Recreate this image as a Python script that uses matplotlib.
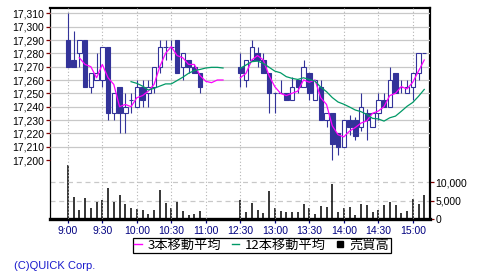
import matplotlib
matplotlib.use("Agg")
import matplotlib.pyplot as plt
import numpy as np
import pandas as pd
from matplotlib.patches import Rectangle
from matplotlib.lines import Line2D

# ---------------- data ----------------
times = ["9:00", "9:05", "9:10", "9:15", "9:20", "9:25", "9:30", "9:35", "9:40", "9:45",
         "9:50", "9:55", "10:00", "10:05", "10:10", "10:15", "10:20", "10:25", "10:30", "10:35",
         "10:40", "10:45", "10:50", "10:55",
         "12:30", "12:35", "12:40", "12:45", "12:50", "12:55", "13:00", "13:05", "13:10", "13:15",
         "13:20", "13:25", "13:30", "13:35", "13:40", "13:45", "13:50", "13:55", "14:00", "14:05",
         "14:10", "14:15", "14:20", "14:25", "14:30", "14:35", "14:40", "14:45", "14:50", "14:55",
         "15:00", "15:05", "15:10"]
opens = [17290, 17275, 17280, 17290, 17255, 17260, 17260, 17285, 17235, 17255,
         17235, 17245, 17240, 17255, 17250, 17255, 17270, 17285, 17285, 17290,
         17270, 17275, 17270, 17265,
         17270, 17260, 17275, 17280, 17275, 17265, 17250, 17250, 17250, 17245,
         17260, 17255, 17265, 17245, 17255, 17230, 17235, 17220, 17210, 17230,
         17230, 17225, 17235, 17225, 17235, 17245, 17240, 17265, 17255, 17250,
         17255, 17265, 17280]
highs = [17310, 17297, 17290, 17290, 17265, 17280, 17285, 17285, 17250, 17255,
         17250, 17250, 17260, 17260, 17260, 17270, 17290, 17290, 17290, 17290,
         17280, 17275, 17272, 17265,
         17280, 17275, 17290, 17285, 17280, 17265, 17250, 17260, 17250, 17262,
         17260, 17275, 17265, 17260, 17260, 17235, 17235, 17220, 17230, 17234,
         17232, 17250, 17238, 17235, 17250, 17250, 17270, 17265, 17260, 17260,
         17265, 17280, 17280]
lows = [17270, 17270, 17270, 17255, 17250, 17260, 17255, 17230, 17230, 17220,
        17220, 17235, 17240, 17240, 17240, 17250, 17265, 17275, 17275, 17265,
        17260, 17265, 17265, 17250,
        17255, 17255, 17275, 17270, 17265, 17235, 17235, 17250, 17245, 17245,
        17250, 17255, 17245, 17245, 17230, 17225, 17200, 17204, 17210, 17219,
        17215, 17222, 17215, 17225, 17230, 17240, 17240, 17250, 17250, 17250,
        17245, 17260, 17280]
closes = [17270, 17270, 17290, 17255, 17265, 17265, 17285, 17235, 17250, 17235,
          17240, 17245, 17255, 17245, 17255, 17270, 17285, 17285, 17285, 17265,
          17280, 17270, 17265, 17255,
          17265, 17275, 17285, 17275, 17265, 17250, 17250, 17250, 17245, 17255,
          17255, 17270, 17250, 17260, 17230, 17235, 17212, 17210, 17230, 17225,
          17218, 17240, 17230, 17235, 17245, 17240, 17260, 17250, 17255, 17255,
          17265, 17280, 17280]
volumes = [14580, 6050, 2480, 5780, 3030, 4680, 5140, 8530, 4680, 6600,
           4130, 3030, 2750, 2480, 1380, 2480, 7980, 4400, 3030, 4680,
           2200, 1100, 1380, 2200,
           5200, 1930, 4400, 2480, 1650, 7700, 3030, 2200, 1930, 1930,
           1930, 4130, 3030, 1380, 3580, 3300, 9630, 1930, 3030, 3300,
           1100, 4130, 3850, 1930, 2480, 3850, 4680, 3850, 1650, 2200,
           5500, 4130, 6600]
# moving-average values shown after the last morning candle
ext_times = ["11:00", "11:05", "11:10", "11:15"]
ma3_ext = [17259, 17258, 17260, 17260]
ma12_ext = [17269, 17269.5, 17269.5, 17269]

tick_labels = ["9:00", "9:30", "10:00", "10:30", "11:00", "12:30", "13:00",
               "13:30", "14:00", "14:30", "15:00"]
price_ticks = list(range(17200, 17311, 10))
vol_ticks = [0, 5000, 10000]


def slot(t):
    h, m = map(int, t.split(":"))
    mins = h * 60 + m
    if mins < 12 * 60:
        return (mins - 9 * 60) / 5.0
    return 30 + (mins - (12 * 60 + 30)) / 5.0


x = np.array([slot(t) for t in times])
xe = np.array([slot(t) for t in ext_times])
n_am = sum(1 for t in times if slot(t) < 30)

cl = pd.Series(closes, dtype=float)
ma3 = cl.rolling(3).mean().to_numpy()
ma12 = cl.rolling(12).mean().to_numpy()

# ---------------- figure ----------------
W, H = 480, 280
fig = plt.figure(figsize=(W / 100, H / 100), dpi=100)
rect = [50 / W, 61 / H, 380 / W, 211 / H]
axv = fig.add_axes(rect)
ax = axv.twinx()
ax.yaxis.tick_left()
axv.yaxis.tick_right()

ax.set_xlim(-3.1, 63.0)
ax.set_ylim(17155.75, 17314)
axv.set_ylim(0, 57500)

cand = "#333399"
# grid
for p in price_ticks[1:]:
    ax.axhline(p, color="#c8c8c8", lw=0.9, zorder=0)
for v in vol_ticks[1:]:
    axv.axhline(v, color="#c8c8c8", lw=0.9, ls=(0, (4, 3)), zorder=0)
tpos = [slot(t) for t in tick_labels]
for t in tpos:
    ax.axvline(t, color="#b4b4b4", lw=0.8, ls=(0, (1, 2)), zorder=0)

# volume
axv.vlines(x, 0, volumes, color="black", lw=1.1, zorder=2)

# candles
bw = 0.78
ax.vlines(x, lows, highs, color=cand, lw=0.8, zorder=3)
for xi, o, c in zip(x, opens, closes):
    lo, hi = min(o, c), max(o, c)
    up = c >= o
    ax.add_patch(Rectangle((xi - bw / 2, lo), bw, hi - lo,
                           facecolor="white" if up else cand,
                           edgecolor=cand, lw=0.8, zorder=4))

# moving averages
am = slice(0, n_am)
pm = slice(n_am, len(times))
ax.plot(np.concatenate([x[am], xe]), np.concatenate([ma3[am], ma3_ext]),
        color="#ff00ff", lw=0.9, zorder=5)
ax.plot(x[pm], ma3[pm], color="#ff00ff", lw=0.9, zorder=5)
ax.plot(np.concatenate([x[am], xe]), np.concatenate([ma12[am], ma12_ext]),
        color="#009966", lw=0.9, zorder=5)
ax.plot(x[pm], ma12[pm], color="#009966", lw=0.9, zorder=5)

# axes styling
lab_font = "Liberation Sans"
ax.set_yticks(price_ticks)
ax.set_yticklabels([f"{p:,}" for p in price_ticks], fontsize=7.5, family=lab_font)
ax.tick_params(axis="y", which="both", left=True, right=False, labelleft=True,
               labelright=False, colors="#800000", labelcolor="black",
               length=3, width=0.9, pad=1)
axv.set_yticks(vol_ticks)
axv.set_yticklabels([f"{v:,}" for v in vol_ticks], fontsize=7.5, family=lab_font)
axv.tick_params(axis="y", left=False, right=True, labelleft=False, labelright=True,
                colors="#800000", labelcolor="black", length=3, width=0.9, pad=1)
axv.set_xticks(tpos)
axv.set_xticklabels(tick_labels, fontsize=7.5, family=lab_font)
axv.tick_params(axis="x", colors="#000080", labelcolor="#000080", length=3,
                width=0.9, pad=2)
ax.tick_params(axis="x", bottom=False, labelbottom=False, top=False)

for s in ax.spines.values():
    s.set_visible(False)
axv.spines["top"].set_linewidth(1.6)
axv.spines["right"].set_linewidth(1.6)
axv.spines["bottom"].set_linewidth(2.4)
axv.spines["left"].set_linewidth(0.9)
for s in axv.spines.values():
    s.set_color("black")
    s.set_zorder(10)

# legend
handles = [Line2D([], [], color="#ff00ff", lw=1.0),
           Line2D([], [], color="#009966", lw=1.0),
           Line2D([], [], color="black", marker="s", ls="none", markersize=5)]
labels = ["3本移動平均", "12本移動平均", "売買高"]
leg = fig.legend(handles, labels, loc="center",
                 bbox_to_anchor=(261.7 / W, 1 - 245.5 / H), ncol=3,
                 frameon=True, fancybox=False, edgecolor="black", framealpha=1,
                 handlelength=0.6, handletextpad=0.4, columnspacing=0.8,
                 borderpad=0.1, borderaxespad=0,
                 prop={"family": ["Noto Sans CJK JP", "DejaVu Sans"], "size": 9.5})
leg.get_frame().set_linewidth(0.9)

fig.text(14 / W, 1 - 266 / H, "(C)QUICK Corp.", color="#1a1acc", fontsize=8,
         family=lab_font, va="center", ha="left")

fig.savefig("out.png", dpi=100)
